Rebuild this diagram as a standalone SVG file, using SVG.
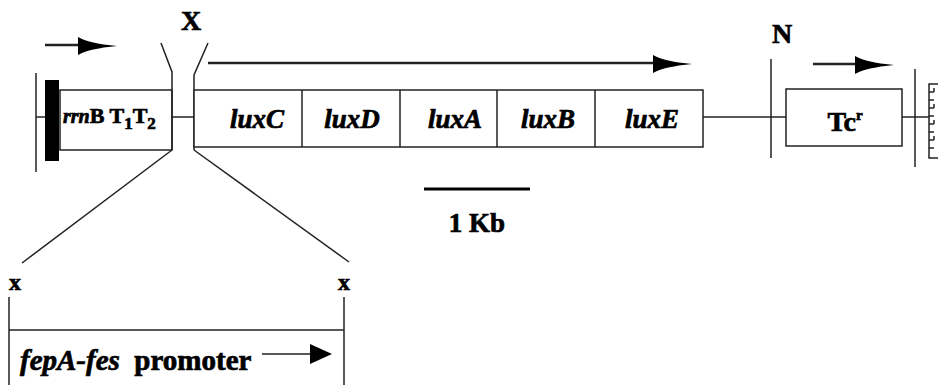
<svg xmlns="http://www.w3.org/2000/svg" xmlns:xlink="http://www.w3.org/1999/xlink" width="938" height="385" viewBox="0 0 938 385">
<style>
.ln{stroke:#222;stroke-width:1.5;fill:none}
.box{stroke:#222;stroke-width:1.5;fill:#fff}
.t{font-family:"Liberation Serif","Times New Roman",serif;font-weight:bold;fill:#000;stroke:#000;stroke-width:0.7}
.it{font-style:italic}
</style>
<defs>
<path id="head" d="M0,-9 L4,-7 C14,-3 28,-1 39,0 C28,1 14,3 4,7 L0,9 Z" fill="#000"/>
<path id="tri" d="M0,-10 L22,0 L0,10 Z" fill="#000"/>
</defs>
<rect width="938" height="385" fill="#fff"/>

<g id="connectors">
  <line class="ln" x1="36" y1="117" x2="45" y2="117"/>
  <line class="ln" x1="172" y1="117" x2="194" y2="117"/>
  <line class="ln" x1="703" y1="117" x2="786" y2="117"/>
  <line class="ln" x1="902" y1="117" x2="929" y2="117"/>
  <line class="ln" x1="172" y1="150" x2="22" y2="263"/>
  <line class="ln" x1="194" y1="150" x2="349" y2="262"/>
</g>

<g id="left-end">
  <line class="ln" x1="36" y1="73" x2="36" y2="172"/>
  <rect x="45" y="80" width="14" height="81" fill="#000"/>
</g>

<g id="arrow-rrnB">
  <line class="ln" x1="45" y1="45" x2="80" y2="45" style="stroke-width:2.5"/>
  <use xlink:href="#head" x="78" y="46"/>
</g>

<g id="rrnB">
  <rect class="box" x="60" y="90" width="112" height="60"/>
  <text class="t" x="63" y="123" font-size="22"><tspan class="it" font-size="20">rrn</tspan>B T<tspan font-size="17" dy="6">1</tspan><tspan dy="-6">T</tspan><tspan font-size="17" dy="6">2</tspan></text>
</g>

<g id="site-X">
  <text class="t" x="191" y="30" font-size="28" text-anchor="middle">X</text>
  <polyline class="ln" points="161,43 172,72 172,150"/>
  <polyline class="ln" points="208,43 194,75 194,150"/>
</g>

<g id="lux-arrow">
  <line class="ln" x1="208" y1="63" x2="655" y2="63" style="stroke-width:2.5"/>
  <use xlink:href="#head" x="653" y="64"/>
</g>

<g id="lux-operon">
  <rect class="box" x="194" y="90" width="509" height="57"/>
  <line class="ln" x1="302" y1="90" x2="302" y2="147"/>
  <line class="ln" x1="400" y1="90" x2="400" y2="147"/>
  <line class="ln" x1="497" y1="90" x2="497" y2="147"/>
  <line class="ln" x1="595" y1="90" x2="595" y2="147"/>
  <text class="t it" x="257" y="128" font-size="27" text-anchor="middle">luxC</text>
  <text class="t it" x="352" y="128" font-size="27" text-anchor="middle">luxD</text>
  <text class="t it" x="455" y="128" font-size="27" text-anchor="middle">luxA</text>
  <text class="t it" x="548" y="128" font-size="27" text-anchor="middle">luxB</text>
  <text class="t it" x="652" y="128" font-size="27" text-anchor="middle">luxE</text>
</g>

<g id="scale-bar">
  <line x1="424" y1="189" x2="530" y2="189" stroke="#000" stroke-width="3"/>
  <text class="t" x="477" y="232" font-size="27" text-anchor="middle">1 Kb</text>
</g>

<g id="site-N">
  <text class="t" x="782" y="43" font-size="28" text-anchor="middle">N</text>
  <line class="ln" x1="771" y1="59" x2="771" y2="158"/>
</g>

<g id="arrow-Tc">
  <line class="ln" x1="813" y1="64" x2="857" y2="64" style="stroke-width:2.5"/>
  <use xlink:href="#head" x="855" y="65"/>
</g>

<g id="Tc">
  <rect class="box" x="786" y="89" width="116" height="57"/>
  <text class="t" x="845" y="131" font-size="28" text-anchor="middle">Tc<tspan font-size="15" dy="-11">r</tspan></text>
</g>

<g id="right-end">
  <line class="ln" x1="915" y1="69" x2="915" y2="167"/>
  <rect class="box" x="929" y="84" width="14" height="74"/>
  <g class="ln">
    <line x1="929" y1="92" x2="934" y2="92"/>
    <line x1="929" y1="100" x2="934" y2="100"/>
    <line x1="929" y1="108" x2="934" y2="108"/>
    <line x1="929" y1="116" x2="934" y2="116"/>
    <line x1="929" y1="124" x2="934" y2="124"/>
    <line x1="929" y1="132" x2="934" y2="132"/>
    <line x1="929" y1="140" x2="934" y2="140"/>
    <line x1="929" y1="148" x2="934" y2="148"/>
    <line x1="934" y1="88" x2="934" y2="92"/>
    <line x1="934" y1="104" x2="934" y2="108"/>
    <line x1="934" y1="120" x2="934" y2="124"/>
    <line x1="934" y1="136" x2="934" y2="140"/>
  </g>
</g>

<g id="promoter">
  <text class="t" x="15" y="290" font-size="24" text-anchor="middle">x</text>
  <text class="t" x="344" y="290" font-size="24" text-anchor="middle">x</text>
  <line class="ln" x1="9" y1="297" x2="9" y2="385"/>
  <line class="ln" x1="344" y1="297" x2="344" y2="385"/>
  <line class="ln" x1="9" y1="330" x2="344" y2="330"/>
  <text class="t" x="20" y="370" font-size="29" xml:space="preserve"><tspan class="it">fepA-fes</tspan>  promoter</text>
  <line class="ln" x1="262" y1="354" x2="312" y2="354"/>
  <use xlink:href="#tri" x="310" y="354"/>
</g>
</svg>
